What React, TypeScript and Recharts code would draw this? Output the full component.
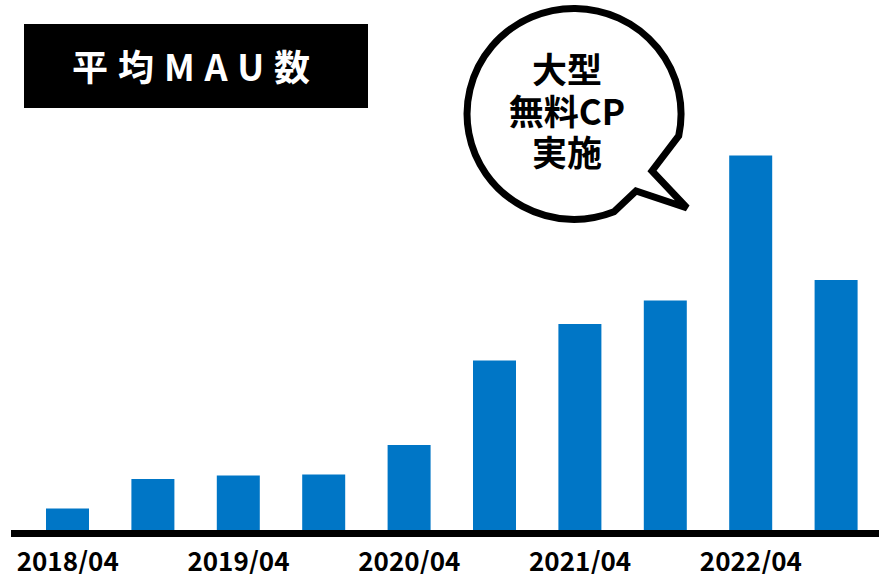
import { BarChart, Bar, XAxis, YAxis } from "recharts";

// 半期ごとの平均MAU（相対値、画像から読み取り）
const periods = [
  "2018/04", "2018/10", "2019/04", "2019/10", "2020/04",
  "2020/10", "2021/04", "2021/10", "2022/04", "2022/10",
];
const avgMau = [25, 54.5, 58, 59, 88.5, 173, 209.5, 233, 378, 253.5];
const yDomain = [0, 400];

const titleText = "平均MAU数";
const calloutLines = ["大型", "無料CP", "実施"];

const BLUE = "#0076C6";
const FONT = '"Noto Sans CJK JP", "Noto Sans", sans-serif';

const data = periods.map((p, i) => ({ period: p, mau: avgMau[i] }));

function Overlay() {
  return (
    <svg
      width={879}
      height={574}
      style={{ position: "absolute", left: 0, top: 0, pointerEvents: "none" }}
    >
      {/* タイトル */}
      <rect x={24} y={24} width={344} height={84} fill="#000" />
      <text
        x={196}
        y={80.5}
        textAnchor="middle"
        fill="#fff"
        fontFamily={FONT}
        fontWeight={700}
        fontSize={36}
        letterSpacing={10}
      >
        {titleText}
      </text>

      {/* 吹き出し */}
      <path
        d="M 678.7 135.9 L 652 171 L 687 208 L 636 191 L 614 211.8 A 107 105.5 0 1 1 678.7 135.9 Z"
        fill="#fff"
        stroke="#000"
        strokeWidth={7}
        strokeLinejoin="miter"
      />
      {calloutLines.map((line, i) => (
        <text
          key={line}
          x={567}
          y={83 + i * 41.5}
          textAnchor="middle"
          fill="#000"
          fontFamily={FONT}
          fontWeight={700}
          fontSize={35}
        >
          {line}
        </text>
      ))}
    </svg>
  );
}

export default function App() {
  return (
    <div style={{ position: "absolute", left: 0, top: 0, width: 879, height: 574, background: "#fff" }}>
      <BarChart
        width={879}
        height={574}
        data={data}
        margin={{ top: 133.5, right: 0, bottom: 0, left: 11 }}
        barSize={43}
      >
        <XAxis
          dataKey="period"
          height={40.5}
          interval={1}
          padding={{ left: 14, right: 0 }}
          axisLine={{ stroke: "#000", strokeWidth: 7 }}
          tickLine={false}
          tickSize={0}
          tickMargin={18.7}
          tick={{ fill: "#000", fontSize: 26, fontWeight: 700, fontFamily: FONT }}
        />
        <YAxis hide domain={yDomain} />
        <Bar dataKey="mau" fill={BLUE} isAnimationActive={false} />
      </BarChart>
      <Overlay />
    </div>
  );
}
